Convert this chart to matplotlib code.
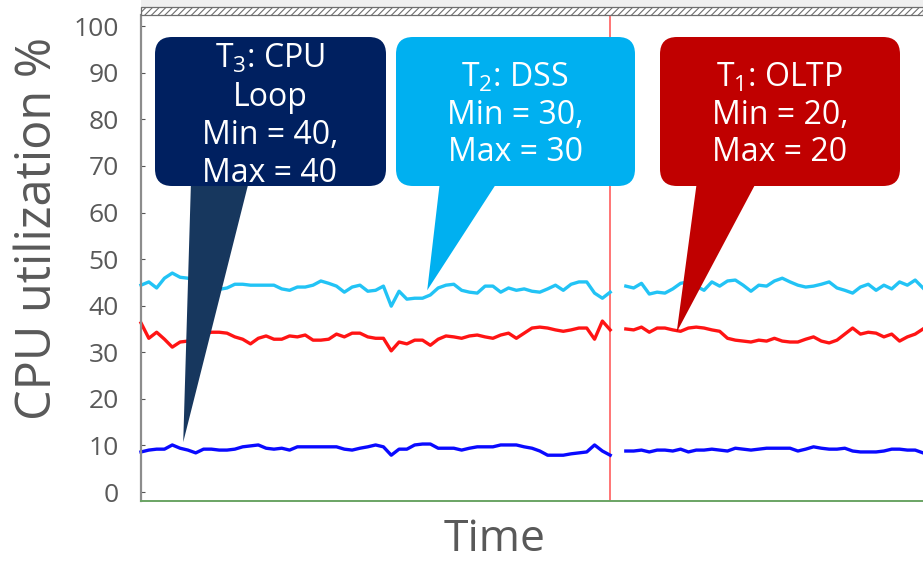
import numpy as np
import matplotlib
matplotlib.use("Agg")
import matplotlib.pyplot as plt
from matplotlib.patches import FancyBboxPatch, Polygon, Rectangle

plt.rcParams["font.family"] = ["Open Sans", "DejaVu Sans"]

# ---- data -------------------------------------------------------------
# sample index along the time axis; run 1 ends at the marker, run 2 resumes after a short gap
t_run1 = np.arange(0, 61)
t_run2 = np.arange(62, 101)
marker_time = 60

dss_run1 = [44.4, 45.1, 43.8, 45.9, 47.0, 46.1, 45.9, 45.0, 44.5, 44.0,
            43.5, 43.8, 44.6, 44.6, 44.4, 44.4, 44.4, 44.4, 43.6, 43.3,
            44.0, 44.0, 44.4, 45.3, 44.8, 44.2, 42.9, 44.0, 44.4, 43.1,
            43.3, 44.2, 39.9, 43.1, 41.4, 41.6, 41.6, 42.3, 43.8, 44.4,
            44.6, 43.3, 42.9, 42.7, 44.2, 44.2, 42.9, 43.8, 43.3, 43.6,
            43.1, 42.9, 43.6, 44.4, 43.3, 44.6, 45.1, 45.1, 42.7, 41.6,
            42.9]
dss_run2 = [44.2, 43.8, 44.8, 42.5, 42.9, 42.7, 43.6, 44.8, 45.1, 44.2,
            43.3, 45.1, 44.2, 45.3, 45.5, 44.4, 43.1, 44.4, 44.2, 45.3,
            45.9, 45.1, 44.4, 44.0, 44.2, 44.6, 45.1, 43.8, 43.3, 42.7,
            44.0, 44.6, 43.3, 44.4, 43.6, 45.1, 44.4, 45.5, 43.8]

oltp_run1 = [36.3, 33.0, 34.3, 32.8, 31.1, 32.2, 32.4, 33.3, 33.9, 34.3,
             34.3, 34.1, 33.3, 32.8, 31.8, 33.0, 33.5, 32.8, 32.8, 33.5,
             33.3, 33.7, 32.6, 32.6, 32.8, 33.9, 33.3, 34.1, 34.1, 33.3,
             33.0, 33.0, 30.3, 32.2, 31.8, 32.6, 32.6, 31.5, 32.8, 33.5,
             33.3, 33.0, 33.5, 33.7, 33.3, 33.0, 33.7, 34.1, 33.0, 34.1,
             35.2, 35.4, 35.2, 34.8, 34.5, 34.8, 35.2, 35.2, 32.8, 36.7,
             34.8]
oltp_run2 = [35.0, 34.8, 35.4, 34.3, 35.2, 35.2, 34.8, 34.5, 35.2, 35.4,
             35.2, 34.8, 34.5, 33.0, 32.6, 32.4, 32.2, 32.6, 32.4, 33.0,
             32.4, 32.2, 32.2, 32.8, 33.3, 32.4, 32.0, 32.6, 33.9, 35.2,
             33.9, 34.3, 34.1, 33.3, 33.9, 32.4, 33.3, 33.9, 35.0]

cpu_run1 = [8.6, 9.0, 9.2, 9.2, 10.1, 9.4, 9.0, 8.4, 9.2, 9.2,
            9.0, 9.0, 9.2, 9.7, 9.9, 10.1, 9.4, 9.2, 9.4, 9.0,
            9.7, 9.7, 9.7, 9.7, 9.7, 9.7, 9.2, 9.0, 9.4, 9.7,
            10.1, 9.7, 7.9, 9.2, 9.2, 10.1, 10.3, 10.3, 9.4, 9.4,
            9.4, 9.0, 9.4, 9.7, 9.7, 9.7, 10.1, 10.1, 10.1, 9.7,
            9.4, 8.8, 7.9, 7.9, 7.9, 8.2, 8.4, 8.6, 10.1, 8.8,
            7.9]
cpu_run2 = [8.8, 8.8, 9.0, 8.6, 9.0, 9.0, 8.8, 9.2, 8.6, 9.0,
            9.0, 9.2, 9.0, 8.8, 9.4, 9.2, 9.0, 9.2, 9.4, 9.4,
            9.4, 9.4, 8.8, 9.2, 9.7, 9.4, 9.2, 9.2, 9.4, 8.8,
            8.6, 8.6, 8.6, 8.8, 9.2, 9.2, 9.0, 9.0, 8.4]

y_ticks = [0, 10, 20, 30, 40, 50, 60, 70, 80, 90, 100]

callout_texts = [
    "$\\mathregular{T_3}$: CPU\nLoop\nMin = 40,\nMax = 40",
    "$\\mathregular{T_2}$: DSS\nMin = 30,\nMax = 30",
    "$\\mathregular{T_1}$: OLTP\nMin = 20,\nMax = 20",
]
callout_tips = [(5.4, 10.7), (36.6, 43.3), (68.5, 34.3)]

# ---- styling ----------------------------------------------------------
C_DSS = "#22C3F5"
C_OLTP = "#FF1414"
C_CPU = "#0A0AFF"
GREY_TXT = "#595959"

W, H, DPI = 923, 564, 100
fig = plt.figure(figsize=(W / DPI, H / DPI), dpi=DPI)

ax_l, ax_r, ax_top, ax_bot = 141, 923, 15, 501
ax = fig.add_axes([ax_l / W, (H - ax_bot) / H, (ax_r - ax_l) / W, (ax_bot - ax_top) / H])
ax.set_xlim(0, 100)
ax.set_ylim(-1.93, 102.4)

lw = 2.4
for t, vals, c in [(t_run1, dss_run1, C_DSS), (t_run2, dss_run2, C_DSS),
                   (t_run1, oltp_run1, C_OLTP), (t_run2, oltp_run2, C_OLTP),
                   (t_run1, cpu_run1, C_CPU), (t_run2, cpu_run2, C_CPU)]:
    ax.plot(t, vals, color=c, lw=lw, solid_joinstyle="round", clip_on=False)

ax.axvline(marker_time, color="#FF6A6A", lw=1.3, zorder=1)

for s in ("top", "right"):
    ax.spines[s].set_visible(False)
ax.spines["left"].set_color("#8C8C8C")
ax.spines["left"].set_linewidth(1.6)
ax.spines["bottom"].set_color("#6AA464")
ax.spines["bottom"].set_linewidth(1.4)

ax.set_xticks([])
ax.set_yticks(y_ticks)
ax.set_yticklabels([str(v) for v in y_ticks])
ax.tick_params(axis="y", direction="in", length=3, width=0.8, color="#555555",
               labelsize=19, labelcolor=GREY_TXT, pad=16)

# hatched band along the top of the plot area
fig.add_artist(Rectangle((ax_l / W, (H - 7) / H), (ax_r - ax_l) / W, 7 / H,
                         transform=fig.transFigure, facecolor="#EFEFEF", edgecolor="none"))
plt.rcParams["hatch.color"] = "#7A7A7A"
plt.rcParams["hatch.linewidth"] = 0.8
fig.add_artist(Rectangle((ax_l / W, (H - 15) / H), (ax_r - ax_l) / W, 8 / H,
                         transform=fig.transFigure, facecolor="white", edgecolor="#6E6E6E",
                         lw=0.9, hatch="/////"))

# axis titles
fig.text(38 / W, 1 - 228 / H, "CPU utilization %", rotation=90, ha="center", va="center",
         fontsize=35, color=GREY_TXT)
fig.text(495 / W, 1 - 540 / H, "Time", ha="center", va="center", fontsize=32, color=GREY_TXT)

# ---- callouts -----------------------------------------------------------
inch = fig.dpi_scale_trans


def to_in(x, y):
    return (x / DPI, (H - y) / DPI)


boxes = [  # x0, x1, y0, y1 in pixels, tail base x0, x1, box color, tail color, text center, spacing
    (155, 386, 37, 186, 191, 249, "#002060", "#17375E", (270, 116), 1.2),
    (396, 635, 37, 186, 440, 498, "#00B0F0", "#00B0F0", (515, 115), 1.16),
    (660, 900, 37, 186, 697, 757, "#C00000", "#C00000", (780, 115), 1.16),
]

for (x0, x1, y0, y1, bx0, bx1, fc, tc, (tx, ty), ls), txt, tip in zip(boxes, callout_texts, callout_tips):
    tip_disp = ax.transData.transform(tip)
    tip_in = inch.inverted().transform(tip_disp)
    tail = Polygon([to_in(bx0, y1 - 5), to_in(bx1, y1 - 5), tuple(tip_in)], closed=True,
                   transform=inch, facecolor=tc, edgecolor="none", zorder=3)
    fig.add_artist(tail)
    bx, by = to_in(x0, y1)
    box = FancyBboxPatch((bx, by), (x1 - x0) / DPI, (y1 - y0) / DPI,
                         boxstyle="round,pad=0,rounding_size=0.17", transform=inch,
                         facecolor=fc, edgecolor="none", zorder=4)
    fig.add_artist(box)
    fig.text(tx / W, 1 - ty / H, txt, ha="center", va="center", color="white",
             fontsize=23, linespacing=ls, zorder=5)

fig.savefig("out.png", dpi=DPI)
